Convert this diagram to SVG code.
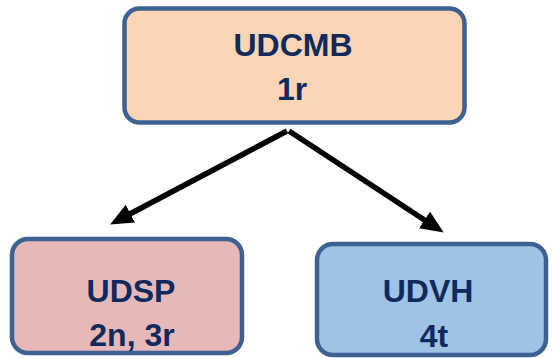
<svg xmlns="http://www.w3.org/2000/svg" width="553" height="358" viewBox="0 0 553 358">
<style>
.box{stroke:#3d6190;stroke-width:4.5}
.lbl{font-family:"Liberation Sans",Arial,sans-serif;font-weight:bold;font-size:32px;fill:#0f2a5c;text-anchor:middle}
.conn{stroke:#000;stroke-width:5.5;fill:none}
</style>
<defs>
<marker id="ah" markerUnits="userSpaceOnUse" markerWidth="24" markerHeight="22" refX="5" refY="10" orient="auto">
<path d="M0,0 L23,10 L0,20 z" fill="#000"/>
</marker>
</defs>
<rect width="553" height="358" fill="#fff"/>
<g id="connectors">
<line class="conn" x1="287" y1="131" x2="126" y2="216" marker-end="url(#ah)"/>
<line class="conn" x1="289" y1="131" x2="428.7" y2="222.7" marker-end="url(#ah)"/>
</g>
<g id="UDCMB">
<rect class="box" x="124.5" y="8.5" width="340" height="114" rx="15" fill="#fbd5b5"/>
<text class="lbl" x="293" y="56">UDCMB</text>
<text class="lbl" x="292" y="100">1r</text>
</g>
<g id="UDSP">
<rect class="box" x="12" y="239" width="230" height="114" rx="16" fill="#e6b9b8"/>
<text class="lbl" x="131" y="302">UDSP</text>
<text class="lbl" x="132" y="346">2n, 3r</text>
</g>
<g id="UDVH">
<rect class="box" x="317" y="244" width="229" height="111" rx="16" fill="#9fc3e7"/>
<text class="lbl" x="428" y="302">UDVH</text>
<text class="lbl" x="434" y="347">4t</text>
</g>
</svg>
